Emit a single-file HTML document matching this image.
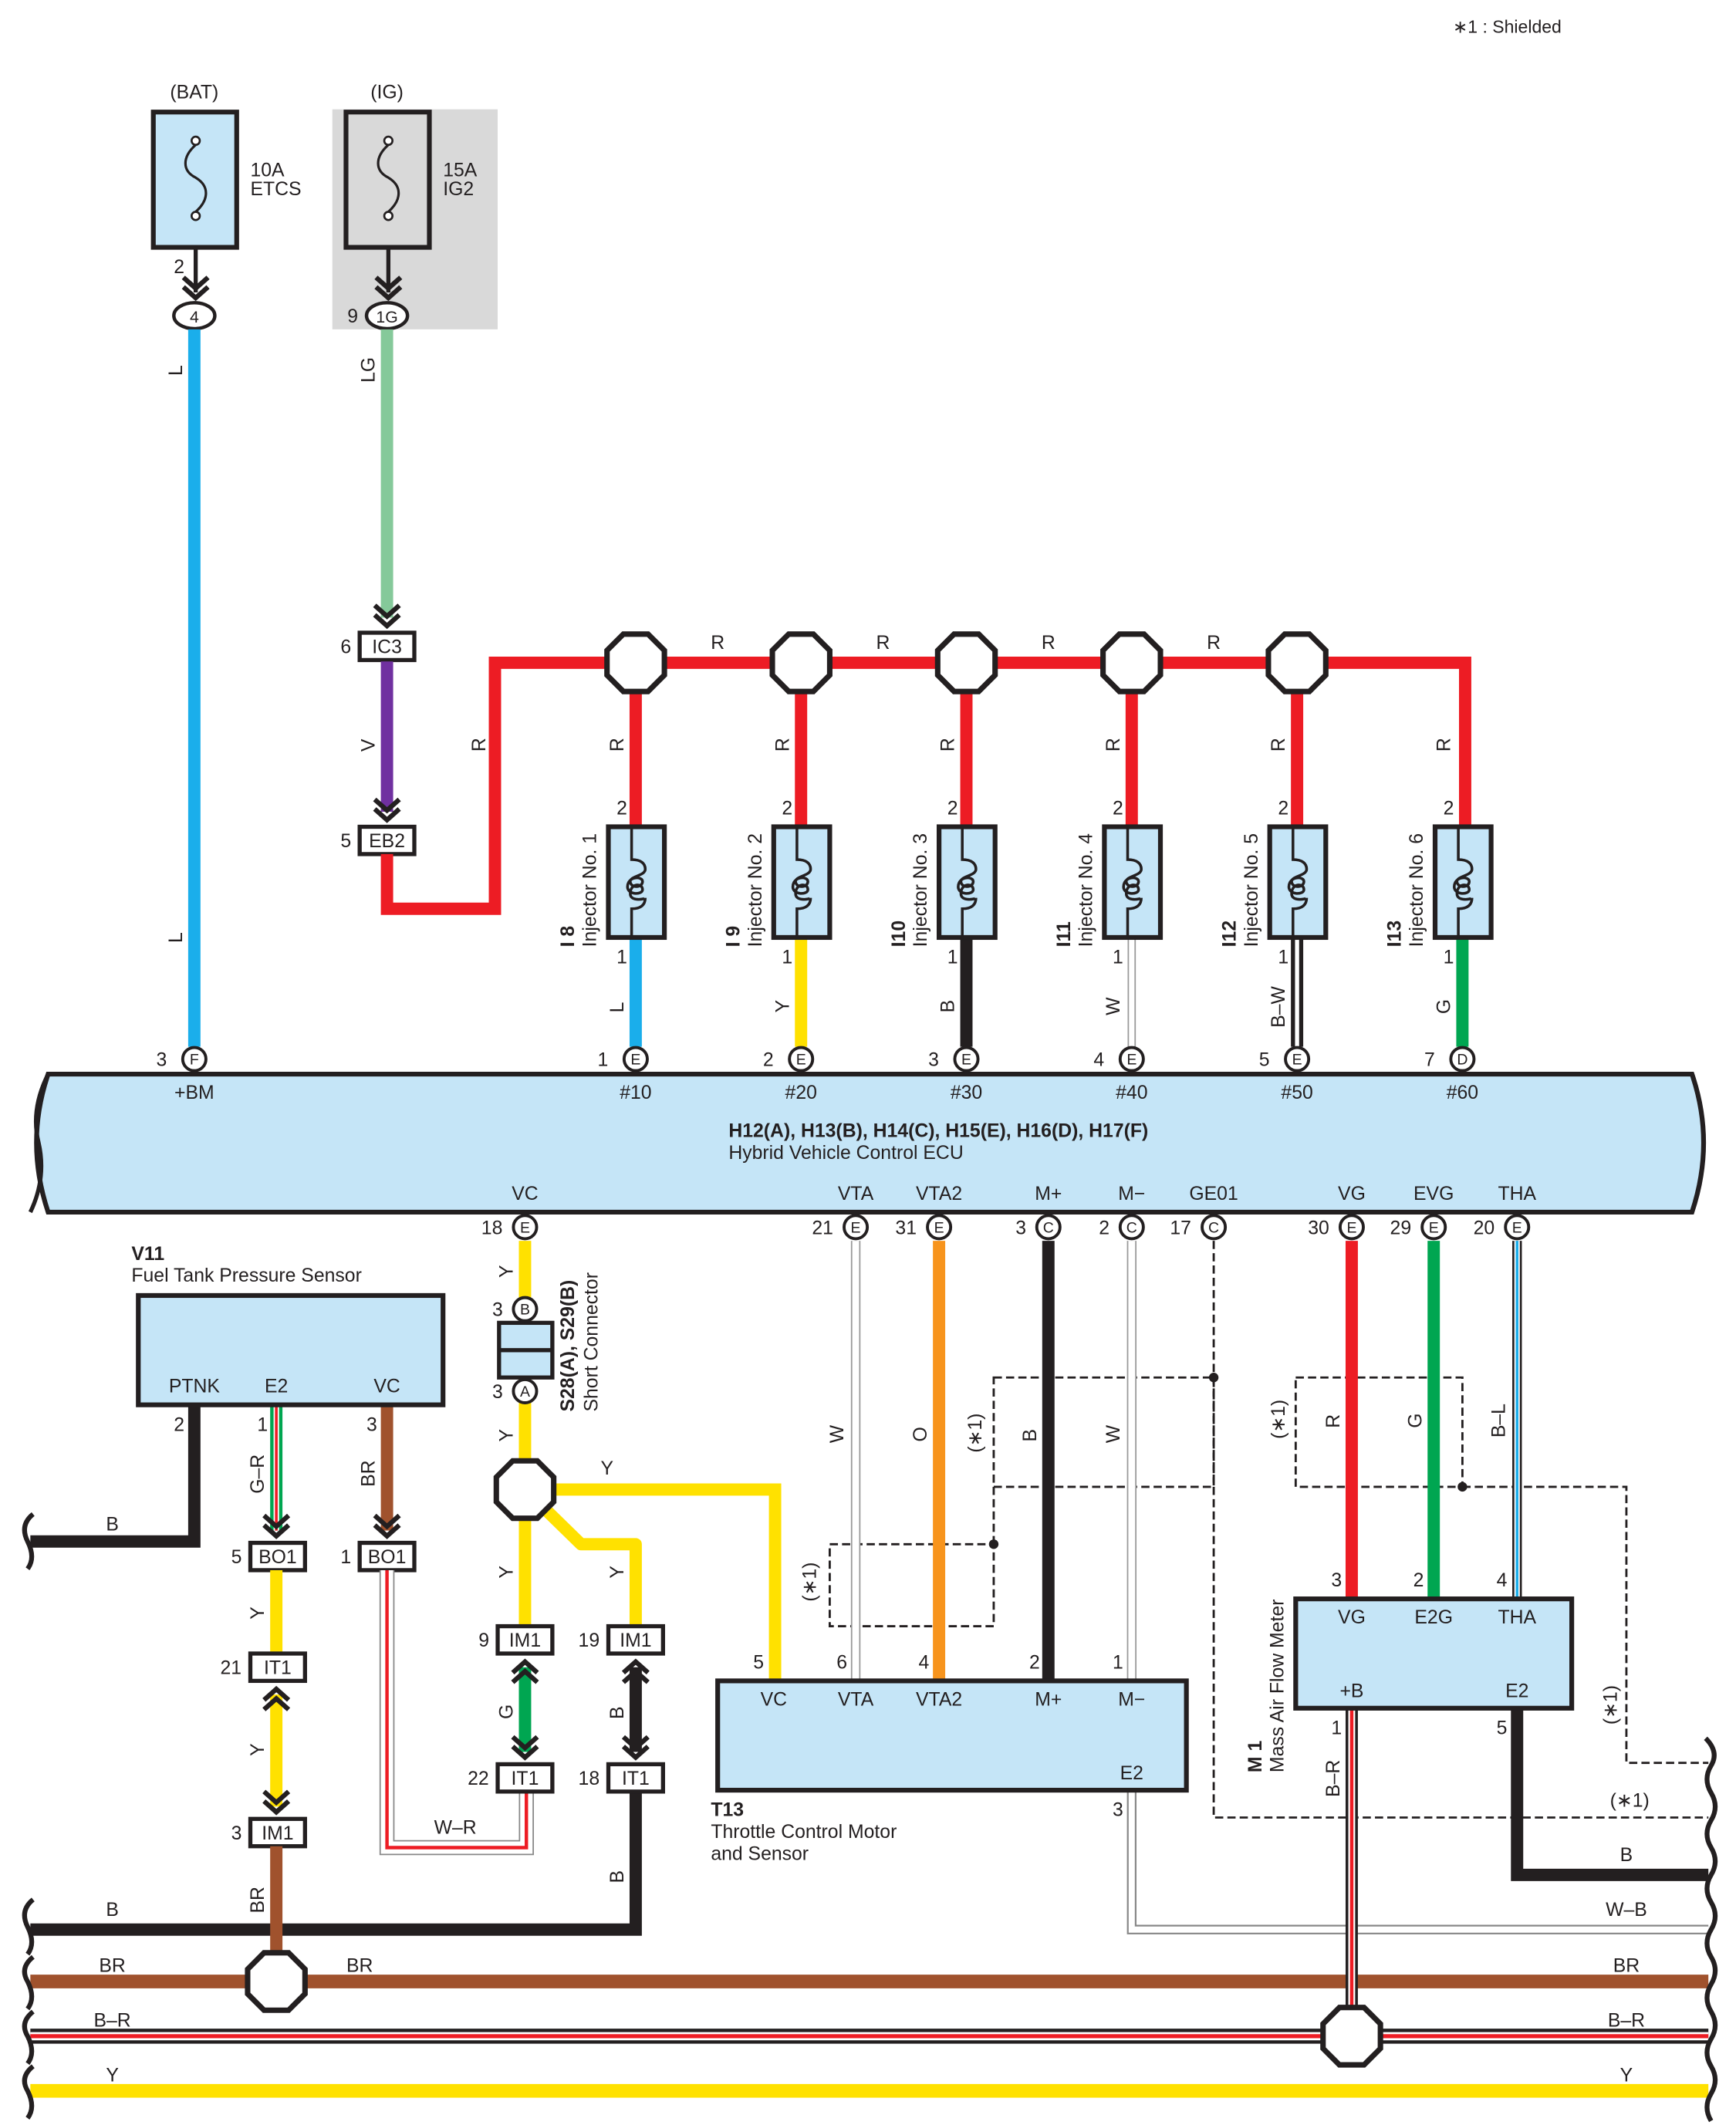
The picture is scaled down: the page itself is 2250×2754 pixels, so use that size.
<!DOCTYPE html>
<html><head><meta charset="utf-8"><style>
html,body{margin:0;padding:0;background:#fff}
svg{display:block}
text{font-family:"Liberation Sans",sans-serif;font-size:14px;fill:#231f20}
.b{font-weight:bold}
.m{text-anchor:middle}
</style></head><body>
<svg width="2250" height="2754" viewBox="0 0 1270 1555" xmlns="http://www.w3.org/2000/svg">
<defs>
<polygon id="oct" points="-9,-21 9,-21 21,-9 21,9 9,21 -9,21 -21,9 -21,-9" fill="#fff" stroke="#231f20" stroke-width="4"/>
<g id="chd" fill="none" stroke="#231f20" stroke-width="3.5"><polyline points="-9,-11 0,-3 9,-11"/><polyline points="-9,-4 0,4 9,-4"/></g>
<g id="chu" fill="none" stroke="#231f20" stroke-width="3.5"><polyline points="-9,11 0,3 9,11"/><polyline points="-9,4 0,-4 9,4"/></g>
<g id="inj"><rect x="-20" y="0" width="41" height="81" fill="#c5e5f7" stroke="#231f20" stroke-width="3.5"/>
<path d="M-3,0 V24 C4,24 7,27 7,31 C7,36 -4,36 -4,40 C-4,45 5,45 5,40 C5,36 -6,36 -6,44 C-6,50 5,50 5,46 C5,41 -4,41 -4,49 C-4,55 7,53 7,52 C7,57 4,60 -3,60 V81" fill="none" stroke="#231f20" stroke-width="2"/></g>
<g id="pin"><circle r="8.5" fill="#fff" stroke="#231f20" stroke-width="2.2"/></g>
</defs>

<text x="1063" y="24" style="font-size:13px">∗1 : Shielded</text>

<!-- BAT -->
<text x="142" y="72" class="m">(BAT)</text>
<rect x="112" y="82" width="61" height="99" fill="#c5e5f7" stroke="#231f20" stroke-width="3.5"/>
<circle cx="143" cy="103" r="3" fill="#fff" stroke="#231f20" stroke-width="1.5"/>
<circle cx="143" cy="158" r="3" fill="#fff" stroke="#231f20" stroke-width="1.5"/>
<path d="M143,106 C133,115 133,125 143,130 C153,136 153,146 143,155" fill="none" stroke="#231f20" stroke-width="1.8"/>
<text x="183" y="129">10A</text><text x="183" y="143">ETCS</text>
<line x1="143" y1="181" x2="143" y2="214" stroke="#231f20" stroke-width="3"/>
<use href="#chd" x="143" y="214"/>
<text x="127" y="200">2</text>
<ellipse cx="142" cy="231" rx="15" ry="9.5" fill="#fff" stroke="#231f20" stroke-width="2.5"/>
<text x="142" y="236" class="m" style="font-size:12px">4</text>
<line x1="142" y1="241" x2="142" y2="766" stroke="#1aaeeb" stroke-width="9"/>
<text transform="translate(133,275) rotate(-90)">L</text>
<text transform="translate(133,690) rotate(-90)">L</text>

<!-- IG -->
<rect x="243" y="80" width="121" height="161" fill="#d9d9d9"/>
<text x="283" y="72" class="m">(IG)</text>
<rect x="253" y="82" width="61" height="99" fill="#d9d9d9" stroke="#231f20" stroke-width="3.5"/>
<circle cx="284" cy="103" r="3" fill="#fff" stroke="#231f20" stroke-width="1.5"/>
<circle cx="284" cy="158" r="3" fill="#fff" stroke="#231f20" stroke-width="1.5"/>
<path d="M284,106 C274,115 274,125 284,130 C294,136 294,146 284,155" fill="none" stroke="#231f20" stroke-width="1.8"/>
<text x="324" y="129">15A</text><text x="324" y="143">IG2</text>
<line x1="284" y1="181" x2="284" y2="214" stroke="#231f20" stroke-width="3"/>
<use href="#chd" x="284" y="214"/>
<text x="254" y="236">9</text>
<ellipse cx="283" cy="231" rx="15" ry="9.5" fill="#fff" stroke="#231f20" stroke-width="2.5"/>
<text x="283" y="236" class="m" style="font-size:12px">1G</text>
<line x1="283" y1="241" x2="283" y2="452" stroke="#85c99a" stroke-width="9"/>
<text transform="translate(274,280) rotate(-90)">LG</text>
<use href="#chd" x="283" y="454"/>
<rect x="263" y="463" width="40" height="20" fill="#fff" stroke="#231f20" stroke-width="3"/>
<text x="283" y="478" class="m">IC3</text><text x="249" y="478">6</text>
<line x1="283" y1="484" x2="283" y2="594" stroke="#7030a0" stroke-width="9"/>
<text transform="translate(274,550) rotate(-90)">V</text>
<use href="#chd" x="283" y="596"/>
<rect x="263" y="605" width="40" height="20" fill="#fff" stroke="#231f20" stroke-width="3"/>
<text x="283" y="620" class="m">EB2</text><text x="249" y="620">5</text>

<!-- red -->
<polyline points="283,625 283,665 362,665 362,485 1072,485 1072,605" fill="none" stroke="#ed1c24" stroke-width="9"/>
<text transform="translate(355,550) rotate(-90)">R</text>
<text x="525" y="475" class="m">R</text><text x="646" y="475" class="m">R</text><text x="767" y="475" class="m">R</text><text x="888" y="475" class="m">R</text>

<!-- injectors -->
<g>
<line x1="465" y1="485" x2="465" y2="605" stroke="#ed1c24" stroke-width="9"/>
<line x1="586" y1="485" x2="586" y2="605" stroke="#ed1c24" stroke-width="9"/>
<line x1="707" y1="485" x2="707" y2="605" stroke="#ed1c24" stroke-width="9"/>
<line x1="828" y1="485" x2="828" y2="605" stroke="#ed1c24" stroke-width="9"/>
<line x1="949" y1="485" x2="949" y2="605" stroke="#ed1c24" stroke-width="9"/>
<use href="#oct" x="465" y="485"/><use href="#oct" x="586" y="485"/><use href="#oct" x="707" y="485"/><use href="#oct" x="828" y="485"/><use href="#oct" x="949" y="485"/>
<!-- lower wires -->
<line x1="465" y1="686" x2="465" y2="766" stroke="#1aaeeb" stroke-width="9"/>
<line x1="586" y1="686" x2="586" y2="766" stroke="#ffe100" stroke-width="9"/>
<line x1="707" y1="686" x2="707" y2="766" stroke="#231f20" stroke-width="9"/>
<line x1="828" y1="686" x2="828" y2="766" stroke="#999" stroke-width="6"/>
<line x1="828" y1="686" x2="828" y2="766" stroke="#fff" stroke-width="4"/>
<line x1="949" y1="686" x2="949" y2="766" stroke="#231f20" stroke-width="9"/>
<line x1="949" y1="686" x2="949" y2="766" stroke="#fff" stroke-width="3"/>
<line x1="1070" y1="686" x2="1070" y2="766" stroke="#00a651" stroke-width="9"/>
</g>
<g>
<use href="#inj" x="465" y="605"/><use href="#inj" x="586" y="605"/><use href="#inj" x="707" y="605"/><use href="#inj" x="828" y="605"/><use href="#inj" x="949" y="605"/><use href="#inj" x="1070" y="605"/>
</g>
<g>
<text transform="translate(456,550) rotate(-90)">R</text><text transform="translate(577,550) rotate(-90)">R</text><text transform="translate(698,550) rotate(-90)">R</text><text transform="translate(819,550) rotate(-90)">R</text><text transform="translate(940,550) rotate(-90)">R</text><text transform="translate(1061,550) rotate(-90)">R</text>
<text x="451" y="596">2</text><text x="572" y="596">2</text><text x="693" y="596">2</text><text x="814" y="596">2</text><text x="935" y="596">2</text><text x="1056" y="596">2</text>
<text x="451" y="705">1</text><text x="572" y="705">1</text><text x="693" y="705">1</text><text x="814" y="705">1</text><text x="935" y="705">1</text><text x="1056" y="705">1</text>
<text transform="translate(456,741) rotate(-90)">L</text><text transform="translate(577,741) rotate(-90)">Y</text><text transform="translate(698,741) rotate(-90)">B</text><text transform="translate(819,743) rotate(-90)">W</text><text transform="translate(940,752) rotate(-90)">B–W</text><text transform="translate(1061,742) rotate(-90)">G</text>
<text transform="translate(420,693) rotate(-90)" class="b">I 8</text><text transform="translate(436,693) rotate(-90)">Injector No. 1</text>
<text transform="translate(541,693) rotate(-90)" class="b">I 9</text><text transform="translate(557,693) rotate(-90)">Injector No. 2</text>
<text transform="translate(662,693) rotate(-90)" class="b">I10</text><text transform="translate(678,693) rotate(-90)">Injector No. 3</text>
<text transform="translate(783,693) rotate(-90)" class="b">I11</text><text transform="translate(799,693) rotate(-90)">Injector No. 4</text>
<text transform="translate(904,693) rotate(-90)" class="b">I12</text><text transform="translate(920,693) rotate(-90)">Injector No. 5</text>
<text transform="translate(1025,693) rotate(-90)" class="b">I13</text><text transform="translate(1041,693) rotate(-90)">Injector No. 6</text>
</g>

<!-- ECU -->
<path d="M35,786 H1238 Q1255,836 1238,887 H35 Q18,836 35,786 Z" fill="#c5e5f7" stroke="#231f20" stroke-width="3.5"/>
<path d="M35,786 Q22,812 28,836 Q34,862 22,887" fill="none" stroke="#231f20" stroke-width="3"/>
<g style="font-size:12px" class="m">
<use href="#pin" x="142" y="775"/><text x="142" y="779" class="m" style="font-size:11px">F</text><text x="118" y="780" style="font-size:14px">3</text>
<use href="#pin" x="465" y="775"/><text x="465" y="779" class="m" style="font-size:11px">E</text><text x="441" y="780" style="font-size:14px">1</text>
<use href="#pin" x="586" y="775"/><text x="586" y="779" class="m" style="font-size:11px">E</text><text x="562" y="780" style="font-size:14px">2</text>
<use href="#pin" x="707" y="775"/><text x="707" y="779" class="m" style="font-size:11px">E</text><text x="683" y="780" style="font-size:14px">3</text>
<use href="#pin" x="828" y="775"/><text x="828" y="779" class="m" style="font-size:11px">E</text><text x="804" y="780" style="font-size:14px">4</text>
<use href="#pin" x="949" y="775"/><text x="949" y="779" class="m" style="font-size:11px">E</text><text x="925" y="780" style="font-size:14px">5</text>
<use href="#pin" x="1070" y="775"/><text x="1070" y="779" class="m" style="font-size:11px">D</text><text x="1046" y="780" style="font-size:14px">7</text>
</g>
<text x="142" y="804" class="m">+BM</text><text x="465" y="804" class="m">#10</text><text x="586" y="804" class="m">#20</text><text x="707" y="804" class="m">#30</text><text x="828" y="804" class="m">#40</text><text x="949" y="804" class="m">#50</text><text x="1070" y="804" class="m">#60</text>
<text x="533" y="832" class="b">H12(A), H13(B), H14(C), H15(E), H16(D), H17(F)</text>
<text x="533" y="848">Hybrid Vehicle Control ECU</text>
<text x="384" y="878" class="m">VC</text><text x="626" y="878" class="m">VTA</text><text x="687" y="878" class="m">VTA2</text><text x="767" y="878" class="m">M+</text><text x="828" y="878" class="m">M−</text><text x="888" y="878" class="m">GE01</text><text x="989" y="878" class="m">VG</text><text x="1049" y="878" class="m">EVG</text><text x="1110" y="878" class="m">THA</text>

<!-- dashed shields -->
<g fill="none" stroke="#231f20" stroke-width="1.6" stroke-dasharray="6,3">
<rect x="727" y="1008" width="161" height="80"/>
<rect x="607" y="1130" width="120" height="60"/>
<polyline points="888,908 888,1330 1250,1330"/>
<polyline points="727,1130 727,1088"/>
<rect x="948" y="1008" width="122" height="80"/>
<polyline points="1070,1088 1190,1088 1190,1290 1250,1290"/>
</g>
<circle cx="888" cy="1008" r="3.5" fill="#231f20"/><circle cx="727" cy="1130" r="3.5" fill="#231f20"/><circle cx="1070" cy="1088" r="3.5" fill="#231f20"/>

<!-- ECU to T13/M1 wires -->
<line x1="626" y1="908" x2="626" y2="1230" stroke="#999" stroke-width="7"/><line x1="626" y1="908" x2="626" y2="1230" stroke="#fff" stroke-width="5"/>
<line x1="687" y1="908" x2="687" y2="1230" stroke="#f7941d" stroke-width="9"/>
<line x1="767" y1="908" x2="767" y2="1230" stroke="#231f20" stroke-width="9"/>
<line x1="828" y1="908" x2="828" y2="1230" stroke="#999" stroke-width="7"/><line x1="828" y1="908" x2="828" y2="1230" stroke="#fff" stroke-width="5"/>
<line x1="989" y1="908" x2="989" y2="1170" stroke="#ed1c24" stroke-width="9"/>
<line x1="1049" y1="908" x2="1049" y2="1170" stroke="#00a651" stroke-width="9"/>
<line x1="1110" y1="908" x2="1110" y2="1170" stroke="#231f20" stroke-width="7"/><line x1="1110" y1="908" x2="1110" y2="1170" stroke="#fff" stroke-width="4"/><line x1="1110" y1="908" x2="1110" y2="1170" stroke="#1aaeeb" stroke-width="2"/>
<text transform="translate(617,1056) rotate(-90)">W</text><text transform="translate(678,1055) rotate(-90)">O</text><text transform="translate(718,1063) rotate(-90)">(∗1)</text><text transform="translate(758,1055) rotate(-90)">B</text><text transform="translate(819,1056) rotate(-90)">W</text>
<text transform="translate(597,1172) rotate(-90)">(∗1)</text>
<text transform="translate(940,1053) rotate(-90)">(∗1)</text><text transform="translate(980,1045) rotate(-90)">R</text><text transform="translate(1040,1045) rotate(-90)">G</text><text transform="translate(1101,1052) rotate(-90)">B–L</text>
<text transform="translate(1183,1262) rotate(-90)">(∗1)</text>
<text x="1178" y="1322">(∗1)</text>

<!-- bottom bus wires -->
<polyline points="22,1412 465,1412 465,1310" fill="none" stroke="#231f20" stroke-width="9"/>
<line x1="22" y1="1450" x2="1250" y2="1450" stroke="#a0522d" stroke-width="10"/>
<line x1="22" y1="1490" x2="1250" y2="1490" stroke="#231f20" stroke-width="11"/>
<line x1="22" y1="1490" x2="1250" y2="1490" stroke="#fff" stroke-width="6"/>
<line x1="22" y1="1490" x2="1250" y2="1490" stroke="#ed1c24" stroke-width="3"/>
<line x1="22" y1="1530" x2="1250" y2="1530" stroke="#ffe100" stroke-width="10"/>
<polyline points="828,1310 828,1412 1250,1412" fill="none" stroke="#888" stroke-width="7"/>
<polyline points="828,1310 828,1412 1250,1412" fill="none" stroke="#fff" stroke-width="4.5"/>
<polyline points="1110,1250 1110,1372 1250,1372" fill="none" stroke="#231f20" stroke-width="9"/>
<polyline points="989,1250 989,1490" fill="none" stroke="#231f20" stroke-width="9"/>
<polyline points="989,1250 989,1490" fill="none" stroke="#fff" stroke-width="5"/>
<polyline points="989,1250 989,1490" fill="none" stroke="#ed1c24" stroke-width="2.5"/>
<text transform="translate(980,1315) rotate(-90)">B–R</text>
<text x="82" y="1402" class="m">B</text><text x="82" y="1443" class="m">BR</text><text x="263" y="1443" class="m">BR</text><text x="82" y="1483" class="m">B–R</text><text x="82" y="1523" class="m">Y</text>
<text x="1190" y="1362" class="m">B</text><text x="1190" y="1402" class="m">W–B</text><text x="1190" y="1443" class="m">BR</text><text x="1190" y="1483" class="m">B–R</text><text x="1190" y="1523" class="m">Y</text>
<use href="#oct" x="989" y="1490"/>
<g fill="none" stroke="#231f20" stroke-width="3.5">
<path d="M24,1390 Q14,1398 20,1410 Q26,1422 20,1430 M24,1432 Q14,1440 20,1450 Q26,1462 20,1470 M24,1472 Q14,1480 20,1490 Q26,1502 20,1510 M24,1512 Q14,1520 20,1530 Q26,1542 20,1550"/>
<path d="M24,1108 Q14,1116 20,1128 Q26,1140 20,1148"/>
<path d="M1248,1272 Q1258,1282 1252,1292 Q1246,1302 1252,1312 Q1258,1322 1252,1332 Q1246,1342 1252,1352 Q1258,1362 1252,1372 Q1246,1382 1252,1392 Q1258,1402 1252,1412 Q1246,1422 1252,1432 Q1258,1442 1252,1452 Q1246,1462 1252,1472 Q1258,1482 1252,1492 Q1246,1502 1252,1512 Q1258,1522 1252,1532 Q1246,1542 1252,1552"/>
</g>

<!-- V11 sensor -->
<text x="96" y="922" class="b">V11</text><text x="96" y="938">Fuel Tank Pressure Sensor</text>
<polyline points="142,1028 142,1128 22,1128" fill="none" stroke="#231f20" stroke-width="9"/>
<text x="82" y="1120" class="m">B</text>
<line x1="202" y1="1028" x2="202" y2="1120" stroke="#00a651" stroke-width="9"/>
<line x1="202" y1="1028" x2="202" y2="1120" stroke="#fff" stroke-width="4"/>
<line x1="202" y1="1028" x2="202" y2="1120" stroke="#ed1c24" stroke-width="2"/>
<line x1="283" y1="1028" x2="283" y2="1120" stroke="#a0522d" stroke-width="9"/>
<rect x="101" y="948" width="223" height="80" fill="#c5e5f7" stroke="#231f20" stroke-width="3.5"/>
<text x="142" y="1019" class="m">PTNK</text><text x="202" y="1019" class="m">E2</text><text x="283" y="1019" class="m">VC</text>
<text x="127" y="1047">2</text><text x="188" y="1047">1</text><text x="268" y="1047">3</text>
<text transform="translate(193,1093) rotate(-90)">G–R</text><text transform="translate(274,1088) rotate(-90)">BR</text>
<use href="#chd" x="202" y="1120"/><use href="#chd" x="283" y="1120"/>
<rect x="183" y="1129" width="40" height="20" fill="#fff" stroke="#231f20" stroke-width="3"/><text x="203" y="1144" class="m">BO1</text><text x="169" y="1144">5</text>
<rect x="263" y="1129" width="40" height="20" fill="#fff" stroke="#231f20" stroke-width="3"/><text x="283" y="1144" class="m">BO1</text><text x="249" y="1144">1</text>
<line x1="202" y1="1149" x2="202" y2="1210" stroke="#ffe100" stroke-width="9"/>
<text transform="translate(193,1185) rotate(-90)">Y</text>
<rect x="183" y="1210" width="40" height="20" fill="#fff" stroke="#231f20" stroke-width="3"/><text x="203" y="1225" class="m">IT1</text><text x="161" y="1225">21</text>
<line x1="202" y1="1240" x2="202" y2="1322" stroke="#ffe100" stroke-width="9"/>
<use href="#chu" x="202" y="1240"/><use href="#chd" x="202" y="1322"/>
<text transform="translate(193,1285) rotate(-90)">Y</text>
<rect x="183" y="1331" width="40" height="20" fill="#fff" stroke="#231f20" stroke-width="3"/><text x="203" y="1346" class="m">IM1</text><text x="169" y="1346">3</text>
<line x1="202" y1="1351" x2="202" y2="1450" stroke="#a0522d" stroke-width="9"/>
<text transform="translate(193,1400) rotate(-90)">BR</text>
<use href="#oct" x="202" y="1450"/>
<!-- W-R -->
<polyline points="283,1149 283,1352 385,1352 385,1310" fill="none" stroke="#888" stroke-width="11"/>
<polyline points="283,1149 283,1352 385,1352 385,1310" fill="none" stroke="#fff" stroke-width="9"/>
<polyline points="283,1149 283,1352 385,1352 385,1310" fill="none" stroke="#ed1c24" stroke-width="2.5"/>
<text x="333" y="1342" class="m">W–R</text>

<!-- VC short connector path -->
<line x1="384" y1="908" x2="384" y2="1190" stroke="#ffe100" stroke-width="9"/>
<polyline points="384,1090 567,1090 567,1230" fill="none" stroke="#ffe100" stroke-width="9"/>
<polyline points="384,1090 425,1130 465,1130 465,1190" fill="none" stroke="#ffe100" stroke-width="9" stroke-linejoin="round"/>
<rect x="365" y="968" width="39" height="40" fill="#c5e5f7" stroke="#231f20" stroke-width="3"/>
<line x1="365" y1="988" x2="404" y2="988" stroke="#231f20" stroke-width="3"/>
<use href="#pin" x="384" y="898"/><text x="384" y="902" class="m" style="font-size:11px">E</text><text x="352" y="903">18</text>
<use href="#pin" x="384" y="958"/><text x="384" y="962" class="m" style="font-size:11px">B</text><text x="360" y="963">3</text>
<use href="#pin" x="384" y="1018"/><text x="384" y="1022" class="m" style="font-size:11px">A</text><text x="360" y="1023">3</text>
<text transform="translate(375,935) rotate(-90)">Y</text><text transform="translate(375,1055) rotate(-90)">Y</text>
<text transform="translate(420,1033) rotate(-90)" class="b">S28(A), S29(B)</text><text transform="translate(437,1033) rotate(-90)">Short Connector</text>
<use href="#oct" x="384" y="1090"/>
<text x="444" y="1079" class="m">Y</text>
<text transform="translate(375,1155) rotate(-90)">Y</text><text transform="translate(456,1155) rotate(-90)">Y</text>
<rect x="364" y="1190" width="40" height="20" fill="#fff" stroke="#231f20" stroke-width="3"/><text x="384" y="1205" class="m">IM1</text><text x="350" y="1205">9</text>
<rect x="445" y="1190" width="40" height="20" fill="#fff" stroke="#231f20" stroke-width="3"/><text x="465" y="1205" class="m">IM1</text><text x="423" y="1205">19</text>
<line x1="384" y1="1220" x2="384" y2="1282" stroke="#00a651" stroke-width="9"/>
<line x1="465" y1="1220" x2="465" y2="1282" stroke="#231f20" stroke-width="9"/>
<use href="#chu" x="384" y="1220"/><use href="#chu" x="465" y="1220"/><use href="#chd" x="384" y="1282"/><use href="#chd" x="465" y="1282"/>
<text transform="translate(375,1258) rotate(-90)">G</text><text transform="translate(456,1258) rotate(-90)">B</text>
<rect x="364" y="1291" width="40" height="20" fill="#fff" stroke="#231f20" stroke-width="3"/><text x="384" y="1306" class="m">IT1</text><text x="342" y="1306">22</text>
<rect x="445" y="1291" width="40" height="20" fill="#fff" stroke="#231f20" stroke-width="3"/><text x="465" y="1306" class="m">IT1</text><text x="423" y="1306">18</text>
<text transform="translate(456,1378) rotate(-90)">B</text>

<!-- ECU bottom pins -->
<g>
<use href="#pin" x="626" y="898"/><text x="626" y="902" class="m" style="font-size:11px">E</text><text x="594" y="903">21</text>
<use href="#pin" x="687" y="898"/><text x="687" y="902" class="m" style="font-size:11px">E</text><text x="655" y="903">31</text>
<use href="#pin" x="767" y="898"/><text x="767" y="902" class="m" style="font-size:11px">C</text><text x="743" y="903">3</text>
<use href="#pin" x="828" y="898"/><text x="828" y="902" class="m" style="font-size:11px">C</text><text x="804" y="903">2</text>
<use href="#pin" x="888" y="898"/><text x="888" y="902" class="m" style="font-size:11px">C</text><text x="856" y="903">17</text>
<use href="#pin" x="989" y="898"/><text x="989" y="902" class="m" style="font-size:11px">E</text><text x="957" y="903">30</text>
<use href="#pin" x="1049" y="898"/><text x="1049" y="902" class="m" style="font-size:11px">E</text><text x="1017" y="903">29</text>
<use href="#pin" x="1110" y="898"/><text x="1110" y="902" class="m" style="font-size:11px">E</text><text x="1078" y="903">20</text>
</g>

<!-- T13 -->
<rect x="525" y="1230" width="343" height="80" fill="#c5e5f7" stroke="#231f20" stroke-width="3.5"/>
<text x="566" y="1248" class="m">VC</text><text x="626" y="1248" class="m">VTA</text><text x="687" y="1248" class="m">VTA2</text><text x="767" y="1248" class="m">M+</text><text x="828" y="1248" class="m">M−</text><text x="828" y="1302" class="m">E2</text>
<text x="551" y="1221">5</text><text x="612" y="1221">6</text><text x="672" y="1221">4</text><text x="753" y="1221">2</text><text x="814" y="1221">1</text><text x="814" y="1329">3</text>
<text x="520" y="1329" class="b">T13</text><text x="520" y="1345">Throttle Control Motor</text><text x="520" y="1361">and Sensor</text>

<!-- M1 -->
<rect x="948" y="1170" width="202" height="80" fill="#c5e5f7" stroke="#231f20" stroke-width="3.5"/>
<text x="989" y="1188" class="m">VG</text><text x="1049" y="1188" class="m">E2G</text><text x="1110" y="1188" class="m">THA</text><text x="989" y="1242" class="m">+B</text><text x="1110" y="1242" class="m">E2</text>
<text x="974" y="1161">3</text><text x="1034" y="1161">2</text><text x="1095" y="1161">4</text><text x="974" y="1269">1</text><text x="1095" y="1269">5</text>
<text transform="translate(923,1297) rotate(-90)" class="b">M 1</text><text transform="translate(939,1297) rotate(-90)">Mass Air Flow Meter</text>
</svg>
</body></html>
